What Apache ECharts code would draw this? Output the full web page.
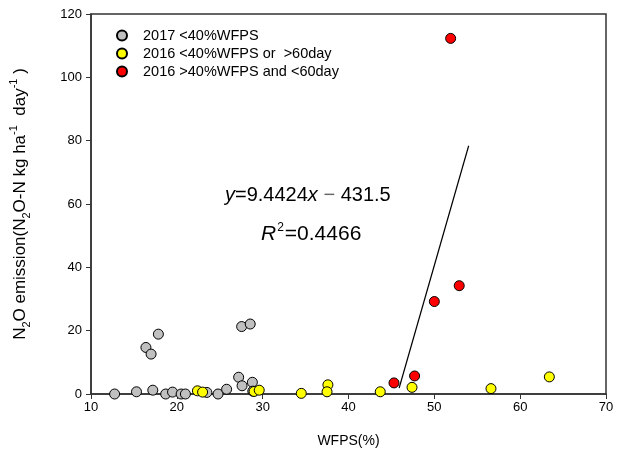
<!DOCTYPE html>
<html>
<head>
<meta charset="utf-8">
<script src="https://cdn.jsdelivr.net/npm/echarts@6/dist/echarts.min.js"></script>
<style>html,body{margin:0;padding:0;background:#fff;}#c{width:623px;height:461px;}</style>
</head>
<body>
<div id="c"></div>
<script>
// Series names
var seriesNames = ['2017 <40%WFPS', '2016 <40%WFPS or  >60day', '2016 >40%WFPS and <60day'];
// 2017 <40%WFPS (gray): [WFPS, N2O]
var gray2017 = [
  [12.75, 0.0], [15.3, 0.7], [17.2, 1.2], [18.7, 0.0], [19.5, 0.6], [20.5, 0.0],
  [21.0, 0.0], [23.5, 0.5], [24.8, 0.0], [25.8, 1.5], [27.2, 5.3], [27.6, 2.6],
  [28.8, 3.7], [28.85, 0.9], [16.4, 14.7], [17.0, 12.6], [17.85, 18.9],
  [27.55, 21.3], [28.55, 22.1]
];
// 2016 <40%WFPS or >60day (yellow)
var yellow2016 = [
  [22.4, 1.0], [23.0, 0.6], [29.0, 0.8], [29.6, 1.2], [34.5, 0.2], [37.6, 2.9],
  [37.5, 0.7], [43.7, 0.7], [47.4, 2.1], [56.6, 1.7], [63.4, 5.4]
];
// 2016 >40%WFPS and <60day (red)
var red2016 = [
  [45.3, 3.5], [47.7, 5.7], [50.0, 29.2], [52.9, 34.2], [51.9, 112.3]
];
// Regression: y = slope*x + intercept, drawn over this x range
var regSlope = 9.4424;
var regIntercept = -431.5;
var regXRange = [45.9, 54.0];
// Axis ticks
var xTicks = [10, 20, 30, 40, 50, 60, 70];
var yTicks = [0, 20, 40, 60, 80, 100, 120];

var regLine = regXRange.map(function (x) { return [x, regSlope * x + regIntercept]; });

var chart = echarts.init(document.getElementById('c'), null, {renderer: 'canvas'});
var font = 'Arial, "Liberation Sans", sans-serif';
var axisCol = '#333';
function sc(name, data, color) {
  return {
    name: name, type: 'scatter', data: data, symbol: 'circle', symbolSize: 10,
    itemStyle: {color: color, borderColor: '#000', borderWidth: 1, opacity: 1},
    emphasis: {disabled: true}, z: 3
  };
}
chart.setOption({
  animation: false,
  backgroundColor: '#fff',
  grid: {left: 89, right: 17, top: 14, bottom: 67, show: true, borderColor: axisCol, borderWidth: 1.5, backgroundColor: 'transparent'},
  legend: {
    orient: 'vertical', left: 111, top: 23, itemWidth: 10, itemHeight: 10, itemGap: 3,
    icon: 'circle',
    textStyle: {fontFamily: font, fontSize: 14.5, color: '#000', padding: [0, 0, 0, 11], lineHeight: 15},
    data: seriesNames
  },
  xAxis: {
    type: 'value', min: xTicks[0], max: xTicks[xTicks.length - 1], interval: 10,
    name: 'WFPS(%)', nameLocation: 'middle', nameGap: 40,
    nameTextStyle: {fontFamily: font, fontSize: 14, color: '#000'},
    axisLine: {show: true, onZero: false, lineStyle: {color: axisCol, width: 1.5}},
    axisTick: {show: true, inside: false, length: 5, lineStyle: {color: axisCol, width: 1}},
    axisLabel: {fontFamily: font, fontSize: 13, color: '#000', margin: 7},
    splitLine: {show: false}
  },
  yAxis: {
    type: 'value', min: yTicks[0], max: yTicks[yTicks.length - 1], interval: 20,
    name: '{n|N}{sub|2}{n|O emission(N}{sub|2}{n|O-N kg ha}{sup|-1}{n|  day}{sup|-1}{n| )}',
    nameLocation: 'middle', nameGap: 59,
    nameTextStyle: {
      fontFamily: font, fontSize: 17, color: '#000',
      rich: {
        n: {fontFamily: font, fontSize: 17, color: '#000', lineHeight: 24},
        sub: {fontFamily: font, fontSize: 11, color: '#000', verticalAlign: 'bottom', lineHeight: 24},
        sup: {fontFamily: font, fontSize: 11, color: '#000', verticalAlign: 'top', lineHeight: 24}
      }
    },
    axisLine: {show: true, lineStyle: {color: axisCol, width: 1.5}},
    axisTick: {show: true, inside: false, length: 5, lineStyle: {color: axisCol, width: 1}},
    axisLabel: {fontFamily: font, fontSize: 13, color: '#000', margin: 9},
    splitLine: {show: false}
  },
  graphic: [
    {
      type: 'text', left: 225, top: 185, z: 10,
      style: {
        text: '{i|y}{n|=9.4424}{i|x}{m| − }{n|431.5}',
        rich: {
          i: {fontFamily: font, fontSize: 20, fontStyle: 'italic', fill: '#000'},
          n: {fontFamily: font, fontSize: 20, fill: '#000'},
          m: {fontFamily: font, fontSize: 20, fill: '#666'}
        }
      }
    },
    {
      type: 'text', left: 261, top: 222, z: 10,
      style: {
        text: '{i|R}{sup|2}{n|=0.4466}',
        rich: {
          i: {fontFamily: font, fontSize: 21, fontStyle: 'italic', fill: '#000', lineHeight: 24},
          sup: {fontFamily: font, fontSize: 12, fill: '#000', verticalAlign: 'top', lineHeight: 24, padding: [0, 1, 0, 1]},
          n: {fontFamily: font, fontSize: 21, fill: '#000', lineHeight: 24}
        }
      }
    }
  ],
  series: [
    sc(seriesNames[0], gray2017, '#c0c0c0'),
    sc(seriesNames[1], yellow2016, '#ffff00'),
    sc(seriesNames[2], red2016, '#ff0000'),
    {
      type: 'line', data: regLine, symbol: 'none', z: 2,
      lineStyle: {color: '#000', width: 1.2}, emphasis: {disabled: true}
    }
  ]
});
</script>
</body>
</html>
